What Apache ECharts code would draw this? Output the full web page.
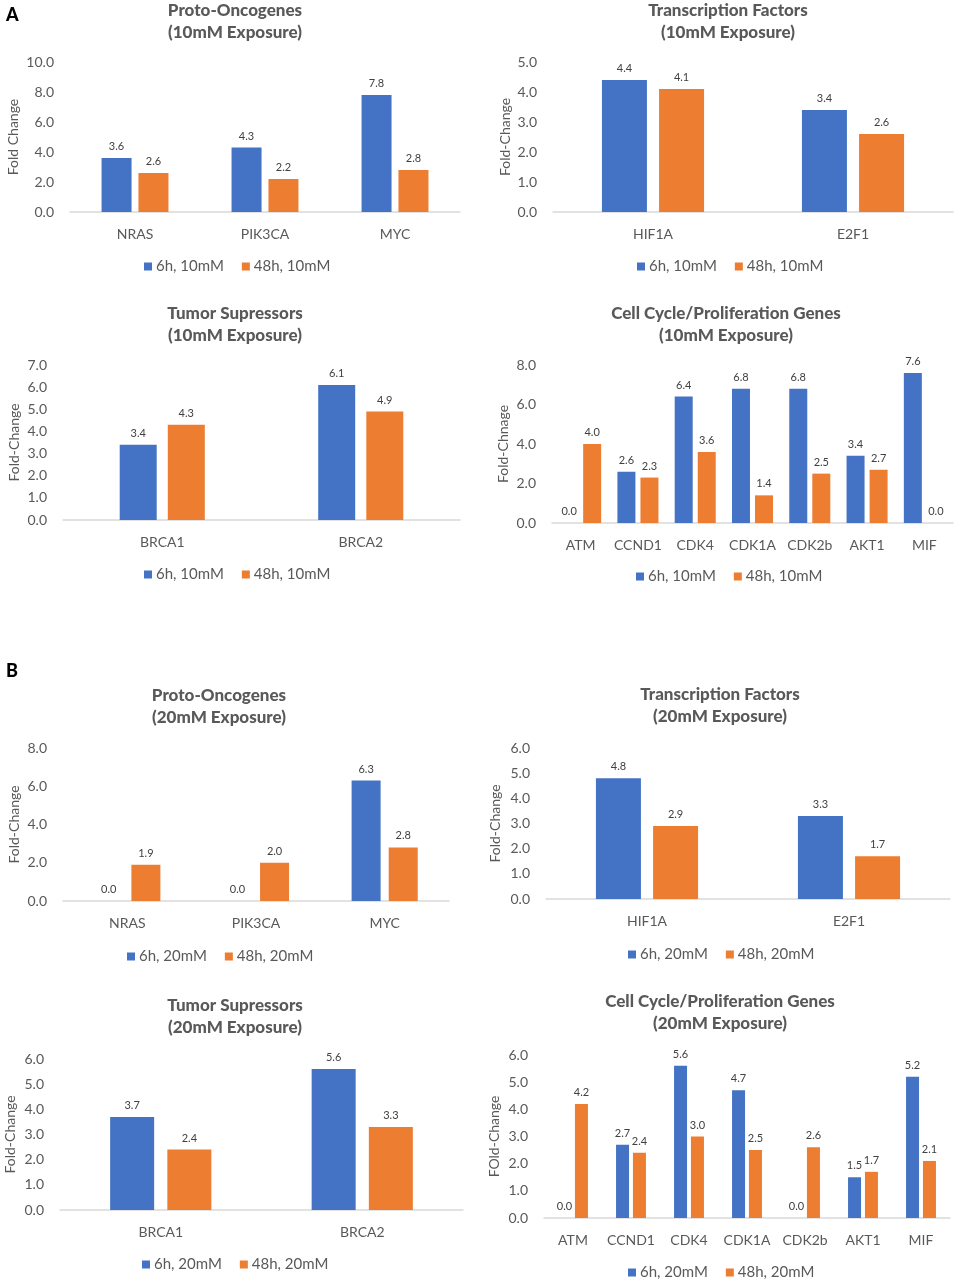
<!DOCTYPE html>
<html>
<head>
<meta charset="utf-8">
<script src="https://cdn.jsdelivr.net/npm/echarts@6/dist/echarts.min.js"></script>
<style>
html,body{margin:0;padding:0;background:#fff;}
#c{width:957px;height:1286px;}
</style>
</head>
<body>
<div id="c"></div>
<script>
// ---- Data ----
const catsProto = ['NRAS', 'PIK3CA', 'MYC'];
const catsTF = ['HIF1A', 'E2F1'];
const catsTS = ['BRCA1', 'BRCA2'];
const catsCC = ['ATM', 'CCND1', 'CDK4', 'CDK1A', 'CDK2b', 'AKT1', 'MIF'];

const proto10_6h = [3.6, 4.3, 7.8];
const proto10_48h = [2.6, 2.2, 2.8];
const tf10_6h = [4.4, 3.4];
const tf10_48h = [4.1, 2.6];
const ts10_6h = [3.4, 6.1];
const ts10_48h = [4.3, 4.9];
const cc10_6h = [0.0, 2.6, 6.4, 6.8, 6.8, 3.4, 7.6];
const cc10_48h = [4.0, 2.3, 3.6, 1.4, 2.5, 2.7, 0.0];

const proto20_6h = [0.0, 0.0, 6.3];
const proto20_48h = [1.9, 2.0, 2.8];
const tf20_6h = [4.8, 3.3];
const tf20_48h = [2.9, 1.7];
const ts20_6h = [3.7, 5.6];
const ts20_48h = [2.4, 3.3];
const cc20_6h = [0.0, 2.7, 5.6, 4.7, 0.0, 1.5, 5.2];
const cc20_48h = [4.2, 2.4, 3.0, 2.5, 2.6, 1.7, 2.1];

const series10 = ['6h, 10mM', '48h, 10mM'];
const series20 = ['6h, 20mM', '48h, 20mM'];

const titles = [
  'Proto-Oncogenes\n(10mM Exposure)', 'Transcription Factors\n(10mM Exposure)',
  'Tumor Supressors\n(10mM Exposure)', 'Cell Cycle/Proliferation Genes\n(10mM Exposure)',
  'Proto-Oncogenes\n(20mM Exposure)', 'Transcription Factors\n(20mM Exposure)',
  'Tumor Supressors\n(20mM Exposure)', 'Cell Cycle/Proliferation Genes\n(20mM Exposure)'
];
const yNames = ['Fold Change', 'Fold-Change', 'Fold-Change', 'Fold-Chnage',
                'Fold-Change', 'Fold-Change', 'Fold-Change', 'FOld-Change'];
const yMax = [10, 5, 7, 8, 8, 6, 6, 6];
const yInterval = [2, 1, 1, 2, 2, 1, 1, 1];

const panelData = [
  [catsProto, proto10_6h, proto10_48h, series10],
  [catsTF, tf10_6h, tf10_48h, series10],
  [catsTS, ts10_6h, ts10_48h, series10],
  [catsCC, cc10_6h, cc10_48h, series10],
  [catsProto, proto20_6h, proto20_48h, series20],
  [catsTF, tf20_6h, tf20_48h, series20],
  [catsTS, ts20_6h, ts20_48h, series20],
  [catsCC, cc20_6h, cc20_48h, series20]
];

// ---- Layout (pixels) ----
const layout = [
  {g:[70, 62, 390, 150],  nameGap:50, tx:230, ty:-5,  lx:139, ly:254, bw:30, bg:'23%'},
  {g:[553, 62, 400, 150], nameGap:41, tx:723, ty:-5,  lx:632, ly:254, bw:45, bg:'27%'},
  {g:[63, 365, 397, 155], nameGap:42, tx:230, ty:298, lx:139, ly:562, bw:37, bg:'30%'},
  {g:[552, 365, 401, 158],nameGap:42, tx:721, ty:298, lx:631, ly:564, bw:18, bg:'28%'},
  {g:[63, 748, 386, 153], nameGap:42, tx:214, ty:680, lx:122, ly:944, bw:29, bg:'28%'},
  {g:[546, 748, 404, 151],nameGap:44, tx:715, ty:679, lx:623, ly:942, bw:45, bg:'27%'},
  {g:[60, 1059, 403, 151],nameGap:43, tx:230, ty:990, lx:137, ly:1252,bw:44, bg:'30%'},
  {g:[544, 1055, 406, 163],nameGap:43, tx:715, ty:986, lx:623, ly:1260,bw:13, bg:'30%'}
];

const FONT = 'Lato, "Open Sans", sans-serif';
const BLUE = '#4472C4', ORANGE = '#ED7D31', GRAY = '#595959';

const option = {
  backgroundColor: '#fff',
  animation: false,
  textStyle: {fontFamily: FONT},
  title: [], grid: [], xAxis: [], yAxis: [], series: [], legend: [],
  graphic: [
    {type:'text', left: 6, top: 6, style:{text:'A', font:'900 18px ' + FONT, fill:'#000'}},
    {type:'text', left: 6, top: 662, style:{text:'B', font:'900 18px ' + FONT, fill:'#000'}}
  ]
};

panelData.forEach((pd, i) => {
  const L = layout[i];
  const [cats, v6, v48, names] = pd;
  option.title.push({
    text: titles[i], left: L.tx, top: L.ty, textAlign: 'center',
    textStyle: {fontFamily: FONT, fontSize: 17, fontWeight: 900, color: GRAY, lineHeight: 22}
  });
  option.grid.push({left: L.g[0], top: L.g[1], width: L.g[2], height: L.g[3], containLabel: false});
  option.xAxis.push({
    type: 'category', gridIndex: i, data: cats,
    axisLine: {show: true, lineStyle: {color: '#D9D9D9', width: 1.5}},
    axisTick: {show: false},
    axisLabel: {color: GRAY, fontSize: 14, margin: 15, fontFamily: FONT, interval: 0}
  });
  option.yAxis.push({
    type: 'value', gridIndex: i, min: 0, max: yMax[i], interval: yInterval[i],
    name: yNames[i], nameLocation: 'middle', nameGap: L.nameGap, nameRotate: 90,
    nameTextStyle: {color: GRAY, fontSize: 14, fontFamily: FONT},
    axisLine: {show: false}, axisTick: {show: false},
    splitLine: {show: false},
    axisLabel: {color: GRAY, fontSize: 14, margin: 16, fontFamily: FONT,
                formatter: v => v.toFixed(1)}
  });
  const lbl = {show: true, position: 'top', distance: 6, color: '#404040', fontSize: 11,
               fontFamily: FONT, formatter: p => p.value.toFixed(1)};
  option.series.push({
    name: names[0], type: 'bar', xAxisIndex: i, yAxisIndex: i, data: v6,
    barWidth: L.bw, barGap: L.bg, itemStyle: {color: BLUE}, label: lbl
  });
  option.series.push({
    name: names[1], type: 'bar', xAxisIndex: i, yAxisIndex: i, data: v48,
    barWidth: L.bw, barGap: L.bg, itemStyle: {color: ORANGE}, label: lbl
  });
  option.legend.push({
    data: names, left: L.lx, top: L.ly, itemWidth: 8, itemHeight: 8, itemGap: 18,
    icon: 'rect', textStyle: {color: GRAY, fontSize: 15, fontFamily: FONT, padding: [0,0,0,-1]},
    selectedMode: false
  });
});

const chart = echarts.init(document.getElementById('c'), null, {renderer: 'canvas'});
chart.setOption(option);
</script>
</body>
</html>
